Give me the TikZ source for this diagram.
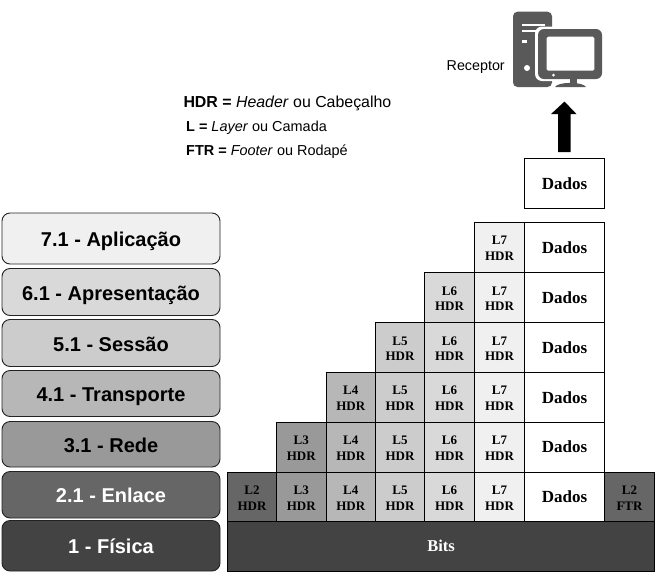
\documentclass[tikz,border=0pt]{standalone}
\usepackage{fontspec}
\setmainfont{Liberation Serif}
\newfontfamily\sansf{Liberation Sans}
\definecolor{Lseven}{HTML}{F0F0F0}
\definecolor{Lsix}{HTML}{D9D9D9}
\definecolor{Lfive}{HTML}{CCCCCC}
\definecolor{Lfour}{HTML}{B7B7B7}
\definecolor{Lthree}{HTML}{999999}
\definecolor{Ltwo}{HTML}{666666}
\definecolor{Lone}{HTML}{434343}
\definecolor{icon}{HTML}{595959}
\definecolor{edge}{HTML}{222222}
\tikzset{
  layerbox/.style={draw=edge,line width=0.9pt,rounded corners=8pt,inner sep=0pt,
    font=\sansf\bfseries\fontsize{20}{22}\selectfont,text=black},
  layertext/.style={inner sep=0pt,font=\sansf\bfseries\fontsize{20}{22}\selectfont,text height=14.3pt,text depth=0pt},
  cellbox/.style={draw=black,line width=0.9pt,inner sep=0pt,align=center,
    font=\bfseries\fontsize{13}{15.8}\selectfont,text=black},
  databox/.style={cellbox,fill=white,font=\bfseries\fontsize{17}{18}\selectfont,text=black},
  legend/.style={anchor=base west,inner sep=0pt,font=\sansf\fontsize{15.9}{18}\selectfont,text=black},
  legendsmall/.style={legend,font=\sansf\fontsize{14.45}{17}\selectfont},
}
\newcommand{\layerb}[6]{% name, y0, y1, fill, text colour, text
  \node[layerbox,fill=#4,minimum width=218pt,minimum height={#3-#2},anchor=center] (#1)
    at (111,{(#2+#3)/2}) {};
  \node[layertext,text=#5] (#1t) at ([yshift=-0.9pt]#1.center) {#6};}
\newcommand{\lift}{\rule{0pt}{11pt}}
\begin{document}
\begin{tikzpicture}[x=1pt,y=-1pt]
\useasboundingbox (0,0) rectangle (662,574);
% left stack
\layerb{a7}{213}{264}{Lseven}{black}{7.1 - Aplicação}
\layerb{a6}{268.5}{315.5}{Lsix}{black}{6.1 - Apresentação}
\layerb{a5}{319.5}{366.5}{Lfive}{black}{5.1 - Sessão}
\layerb{a4}{370.5}{416.5}{Lfour}{black}{4.1 - Transporte}
\layerb{a3}{421.5}{467}{Lthree}{black}{3.1 - Rede}
\layerb{a2}{471.5}{518}{Ltwo}{white}{2.1 - Enlace}
\layerb{a1}{520.5}{571}{Lone}{white}{1 - Física}
% grid
\foreach \r/\ya/\yb/\fst in {1/472/521.5/2,2/422/472/3,3/372.5/422/4,4/322.5/372.5/5,5/272.5/322.5/6,6/222/272.5/7}{
  \foreach \n/\xa/\xb/\col in {2/227.5/276.5/Ltwo,3/276.5/326/Lthree,4/326/375.5/Lfour,5/375.5/424.5/Lfive,6/424.5/474.5/Lsix,7/474.5/524.5/Lseven}{
    \ifnum\n<\fst\relax\else
      \node[cellbox,fill=\col,minimum width={\xb-\xa},minimum height={\yb-\ya}] (c\r-\n)
        at ({(\xa+\xb)/2},{(\ya+\yb)/2}) {\lift L\n\\HDR};
    \fi
  }
  \node[databox,minimum width=80pt,minimum height={\yb-\ya}] (d\r) at (564.5,{(\ya+\yb)/2}) {Dados};
}
\node[cellbox,fill=Ltwo,minimum width=50pt,minimum height=49.5pt] (ftr) at (629.5,496.75) {\lift L2\\FTR};
\node[draw=black,line width=0.9pt,fill=Lone,inner sep=0pt,minimum width=427pt,minimum height=49.5pt,
  text=white,font=\bfseries\fontsize{16.5}{18}\selectfont] (bits) at (441,546.25) {Bits};
\draw[line width=1.6pt] (c3-4.south east) -- (d3.south east);
% top data box and block arrow
\node[databox,minimum width=80pt,minimum height=50pt] (dtop) at (564.5,183.5) {Dados};
\fill[black] ([shift={(-6.5,-6)}]dtop.north) -- ([shift={(-6.5,-44)}]dtop.north)
  -- ([shift={(-13.5,-44)}]dtop.north) -- ([shift={(0,-56.5)}]dtop.north)
  -- ([shift={(12,-44)}]dtop.north) -- ([shift={(6,-44)}]dtop.north)
  -- ([shift={(6,-6)}]dtop.north) -- cycle;
% legend
\node[legend] (l1) at (183.3,107) {\textbf{HDR =} \textit{Header} ou Cabeçalho};
\node[legendsmall] (l2) at (186,131.5) {\textbf{L =} \textit{Layer} ou Camada};
\node[legendsmall] (l3) at (186,155) {\textbf{FTR =} \textit{Footer} ou Rodapé};
% receiver
\node[anchor=base west,inner sep=0pt,font=\sansf\fontsize{14.3}{17}\selectfont] (rx) at (446.5,70) {Receptor};
\fill[icon,rounded corners=4.5pt] (513,11.7) rectangle (552,87);
\fill[white] (522,23.5) rectangle (545,26);
\fill[white] (522,29.5) rectangle (541,31.5);
\fill[white] (522,40) rectangle (527,43);
\fill[white] (527,68) circle (3pt);
\fill[white,rounded corners=7pt] (535,26.5) rectangle (604,81);
\fill[icon,rounded corners=6pt] (538,29) rectangle (602,79);
\fill[white,rounded corners=1.5pt] (546.7,36.7) rectangle (594.3,70.7);
\fill[white] (553.5,75) circle (1.5pt);
\fill[icon] (570,78) rectangle (577,84);
\fill[icon] (555,87) .. controls (558,81.5) and (583,81.5) .. (586,87) -- cycle;
\end{tikzpicture}
\end{document}
